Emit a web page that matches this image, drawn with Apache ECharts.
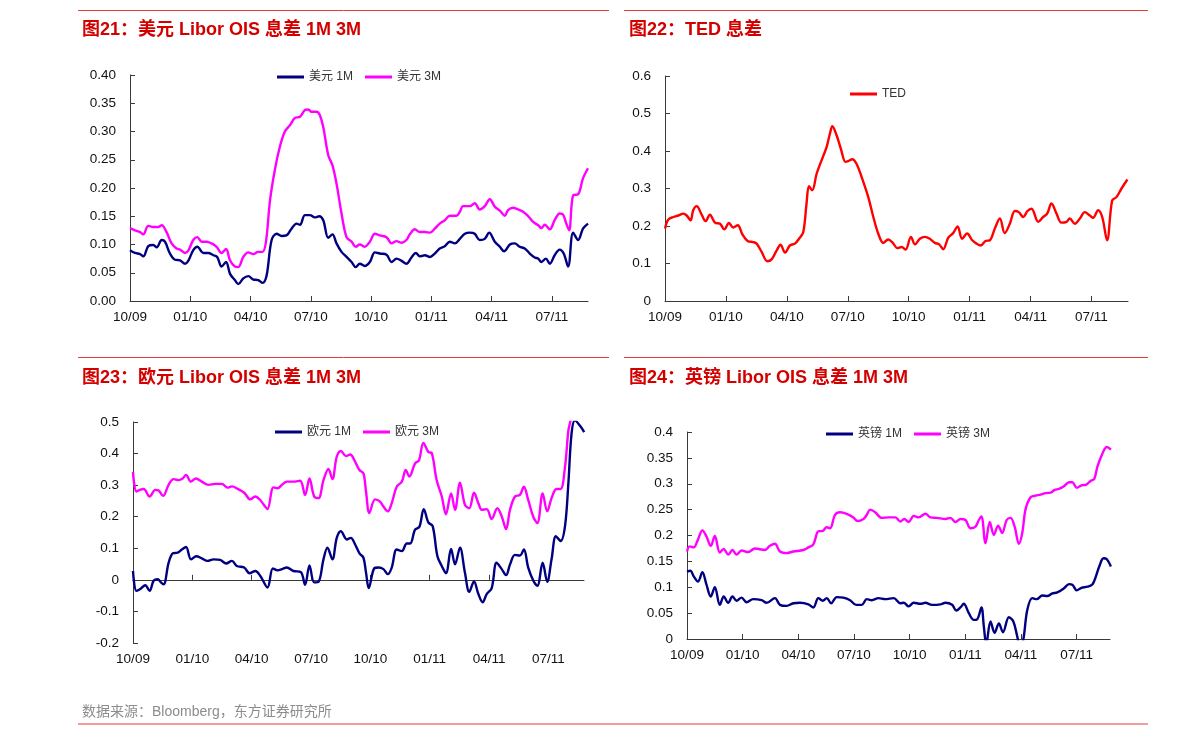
<!DOCTYPE html>
<html>
<head>
<meta charset="utf-8">
<script src="https://cdn.jsdelivr.net/npm/echarts@6/dist/echarts.min.js"></script>
<style>
html,body{margin:0;padding:0;background:#fff;}
#c{width:1191px;height:739px;}
</style>
</head>
<body>
<div id="c"></div>
<script>
// x values are months since 2009-10-01
const quarterTicks = [0, 3, 6, 9, 12, 15, 18, 21];
const quarterLabels = ['10/09', '01/10', '04/10', '07/10', '10/10', '01/11', '04/11', '07/11'];

const usd1M = [[0,.090],[.25,.085],[.5,.083],[.66,.079],[.91,.097],[1.16,.099],[1.33,.095],[1.58,.108],[1.74,.105],[1.99,.084],[2.24,.073],[2.49,.072],[2.74,.066],[2.90,.071],[3.15,.090],[3.35,.096],[3.65,.085],[3.90,.085],[4.15,.081],[4.34,.078],[4.56,.061],[4.78,.069],[4.98,.048],[5.22,.037],[5.39,.030],[5.64,.040],[5.89,.044],[6.14,.038],[6.38,.037],[6.60,.032],[6.80,.045],[7.05,.108],[7.30,.119],[7.55,.115],[7.79,.116],[8.04,.128],[8.29,.137],[8.46,.135],[8.71,.152],[8.96,.152],[9.20,.148],[9.42,.150],[9.62,.143],[9.87,.112],[10.08,.118],[10.28,.102],[10.53,.087],[10.78,.078],[11.03,.069],[11.24,.060],[11.44,.066],[11.69,.062],[11.94,.069],[12.19,.086],[12.44,.084],[12.77,.082],[13.02,.069],[13.27,.075],[13.52,.071],[13.76,.066],[14.01,.077],[14.23,.085],[14.43,.079],[14.68,.081],[14.93,.078],[15.17,.084],[15.42,.093],[15.67,.097],[15.92,.105],[16.17,.102],[16.42,.110],[16.67,.119],[16.92,.121],[17.16,.119],[17.41,.108],[17.66,.110],[17.88,.121],[18.16,.105],[18.41,.096],[18.62,.088],[18.91,.100],[19.15,.102],[19.40,.096],[19.65,.093],[19.90,.084],[20.15,.077],[20.32,.075],[20.48,.069],[20.70,.075],[20.90,.066],[21.14,.081],[21.39,.091],[21.59,.084],[21.81,.061],[22.06,.121],[22.31,.108],[22.55,.128],[22.80,.137]];
const usd3M = [[0,.129],[.25,.125],[.5,.122],[.66,.118],[.91,.133],[1.16,.131],[1.41,.131],[1.58,.134],[1.82,.122],[2.07,.102],[2.32,.093],[2.49,.091],[2.74,.085],[2.90,.089],[3.15,.108],[3.35,.113],[3.57,.105],[3.81,.105],[4.06,.102],[4.31,.096],[4.56,.085],[4.78,.092],[4.98,.072],[5.22,.061],[5.39,.060],[5.64,.078],[5.89,.086],[6.14,.083],[6.38,.087],[6.60,.087],[6.77,.105],[6.97,.178],[7.21,.232],[7.46,.273],[7.71,.300],[7.96,.311],[8.21,.324],[8.46,.326],[8.71,.338],[8.87,.339],[9.04,.335],[9.29,.335],[9.45,.329],[9.62,.308],[9.87,.258],[10.08,.240],[10.28,.208],[10.53,.155],[10.78,.113],[11.03,.105],[11.24,.096],[11.44,.100],[11.69,.096],[11.94,.105],[12.19,.119],[12.44,.116],[12.77,.113],[13.02,.102],[13.27,.106],[13.52,.103],[13.76,.108],[13.93,.118],[14.18,.127],[14.43,.122],[14.68,.122],[14.93,.121],[15.17,.128],[15.42,.137],[15.67,.143],[15.92,.151],[16.25,.151],[16.42,.158],[16.58,.168],[16.92,.168],[17.16,.173],[17.41,.162],[17.66,.168],[17.91,.180],[18.16,.167],[18.41,.160],[18.66,.151],[18.82,.161],[19.07,.165],[19.32,.162],[19.57,.158],[19.82,.150],[20.07,.140],[20.32,.134],[20.48,.129],[20.65,.135],[20.90,.127],[21.14,.143],[21.39,.155],[21.56,.153],[21.72,.137],[21.86,.125],[22.06,.187],[22.31,.189],[22.55,.217],[22.80,.235]];

const ted = [[0,.193],[.16,.217],[.41,.224],[.66,.228],[.90,.233],[1.07,.228],[1.26,.215],[1.39,.242],[1.56,.253],[1.80,.231],[2.00,.213],[2.21,.230],[2.46,.209],[2.71,.206],[2.92,.191],[3.15,.208],[3.36,.196],[3.58,.202],[3.81,.178],[4.07,.160],[4.35,.157],[4.51,.153],[4.76,.131],[5.04,.106],[5.25,.111],[5.50,.135],[5.69,.150],[5.91,.129],[6.15,.148],[6.40,.153],[6.60,.166],[6.81,.184],[6.97,.260],[7.09,.306],[7.25,.295],[7.47,.340],[7.71,.375],[7.96,.411],[8.12,.446],[8.24,.466],[8.45,.442],[8.66,.406],[8.89,.371],[9.02,.373],[9.22,.378],[9.43,.366],[9.68,.331],[10.01,.277],[10.26,.224],[10.50,.180],[10.75,.155],[10.99,.164],[11.19,.157],[11.45,.141],[11.65,.144],[11.85,.137],[12.11,.171],[12.31,.151],[12.55,.166],[12.80,.171],[13.04,.166],[13.29,.155],[13.50,.151],[13.70,.138],[13.95,.169],[14.19,.181],[14.41,.199],[14.63,.166],[14.88,.180],[15.13,.162],[15.34,.153],[15.55,.148],[15.78,.160],[16.00,.162],[16.24,.193],[16.49,.220],[16.73,.181],[16.98,.206],[17.23,.240],[17.42,.237],[17.64,.224],[17.85,.240],[18.05,.246],[18.38,.211],[18.62,.224],[18.82,.233],[19.03,.260],[19.28,.233],[19.52,.209],[19.77,.211],[19.93,.220],[20.18,.206],[20.43,.220],[20.67,.237],[20.92,.228],[21.08,.222],[21.33,.242],[21.53,.224],[21.77,.162],[22.02,.268],[22.23,.277],[22.48,.300],[22.77,.324]];

const eur1M = [[0,.028],[.17,-.035],[.37,-.029],[.62,-.017],[.84,-.035],[1.04,-.003],[1.25,.002],[1.41,-.008],[1.55,-.014],[1.80,.054],[2.02,.084],[2.26,.086],[2.47,.096],[2.68,.104],[2.93,.065],[3.20,.075],[3.48,.068],[3.77,.060],[4.07,.065],[4.41,.063],[4.71,.052],[5.00,.060],[5.25,.044],[5.62,.039],[5.89,.021],[6.18,.028],[6.43,.013],[6.80,-.024],[7.07,.036],[7.31,.030],[7.53,.034],[7.78,.039],[8.11,.028],[8.48,.025],[8.70,-.016],[8.92,.046],[9.16,-.008],[9.38,-.006],[9.63,.065],[9.83,.102],[10.08,.065],[10.30,.133],[10.51,.154],[10.81,.128],[11.01,.133],[11.23,.112],[11.45,.084],[11.65,.070],[11.78,.023],[11.92,-.026],[12.19,.036],[12.41,.039],[12.66,.034],[12.88,.018],[13.08,.039],[13.33,.096],[13.59,.091],[13.84,.115],[14.01,.115],[14.26,.159],[14.48,.168],[14.70,.224],[14.93,.182],[15.15,.170],[15.39,.075],[15.61,.044],[15.82,.021],[16.08,.098],[16.28,.049],[16.53,.102],[16.78,.023],[17.00,-.038],[17.24,-.005],[17.46,-.045],[17.68,-.071],[17.88,-.045],[18.13,-.027],[18.38,.054],[18.64,.034],[18.86,.015],[19.06,.049],[19.31,.079],[19.56,.077],[19.76,.096],[19.98,.039],[20.24,-.003],[20.44,-.019],[20.71,.054],[20.94,-.006],[21.16,.065],[21.38,.138],[21.62,.123],[21.84,.170],[22.01,.306],[22.17,.463],[22.34,.505],[22.59,.489],[22.81,.468]];
const eur3M = [[0,.342],[.17,.280],[.34,.285],[.54,.288],[.84,.264],[1.13,.285],[1.30,.283],[1.52,.266],[1.80,.301],[2.05,.319],[2.31,.316],[2.51,.321],[2.68,.332],[2.93,.311],[3.18,.321],[3.48,.311],[3.82,.301],[4.16,.304],[4.49,.304],[4.78,.292],[5.00,.296],[5.29,.288],[5.62,.276],[5.93,.255],[6.18,.264],[6.43,.253],[6.68,.232],[6.80,.224],[7.10,.293],[7.31,.290],[7.53,.301],[7.78,.311],[8.11,.311],[8.45,.314],[8.70,.269],[8.92,.321],[9.16,.264],[9.38,.259],[9.63,.316],[9.88,.351],[10.08,.319],[10.30,.390],[10.51,.408],[10.77,.392],[10.98,.397],[11.23,.374],[11.45,.348],[11.65,.337],[11.78,.280],[11.95,.212],[12.24,.255],[12.49,.248],[12.66,.232],[12.88,.217],[13.08,.243],[13.33,.295],[13.59,.311],[13.79,.348],[13.97,.327],[14.26,.369],[14.46,.379],[14.68,.434],[14.93,.405],[15.10,.402],[15.35,.316],[15.61,.264],[15.82,.208],[16.08,.274],[16.28,.222],[16.53,.308],[16.78,.238],[17.00,.227],[17.24,.276],[17.46,.243],[17.63,.222],[17.88,.224],[18.13,.193],[18.42,.227],[18.64,.201],[18.86,.161],[19.06,.222],[19.31,.264],[19.56,.269],[19.76,.295],[19.98,.253],[20.24,.199],[20.44,.180],[20.71,.274],[20.94,.217],[21.16,.259],[21.41,.288],[21.62,.288],[21.84,.358],[22.01,.473],[22.12,.505],[22.26,.56],[22.42,.60],[22.81,.62]];

const gbp1M = [[0,.130],[.18,.132],[.36,.121],[.59,.111],[.83,.129],[1.05,.105],[1.28,.082],[1.50,.100],[1.77,.066],[1.98,.082],[2.22,.070],[2.45,.082],[2.67,.074],[2.94,.080],[3.21,.071],[3.57,.077],[4.02,.075],[4.29,.070],[4.74,.079],[5.01,.066],[5.37,.064],[5.73,.069],[6.09,.070],[6.54,.067],[6.81,.061],[7.08,.079],[7.32,.074],[7.53,.079],[7.77,.069],[8.07,.081],[8.43,.080],[8.79,.075],[9.12,.066],[9.42,.066],[9.69,.077],[9.96,.075],[10.32,.079],[10.68,.077],[11.14,.079],[11.50,.069],[11.68,.070],[11.95,.063],[12.22,.070],[12.58,.068],[12.85,.070],[13.21,.066],[13.66,.067],[13.93,.070],[14.29,.066],[14.52,.055],[14.74,.061],[14.92,.068],[15.19,.050],[15.46,.037],[15.64,.038],[15.87,.061],[16.00,.024],[16.13,-.010],[16.36,.034],[16.58,.012],[16.81,.030],[17.03,.013],[17.35,.042],[17.59,.034],[17.80,.005],[17.93,-.012],[18.11,-.004],[18.34,.056],[18.61,.079],[18.85,.077],[19.15,.084],[19.42,.083],[19.69,.088],[19.96,.090],[20.32,.098],[20.59,.106],[20.77,.105],[21.01,.094],[21.26,.099],[21.59,.101],[21.86,.106],[22.04,.121],[22.22,.140],[22.45,.156],[22.63,.154],[22.85,.140]];
const gbp3M = [[0,.169],[.14,.179],[.36,.177],[.59,.192],[.83,.210],[1.05,.198],[1.28,.180],[1.50,.199],[1.77,.167],[1.98,.174],[2.22,.163],[2.45,.172],[2.67,.163],[2.94,.171],[3.30,.168],[3.66,.175],[4.20,.172],[4.47,.180],[4.74,.184],[5.01,.169],[5.37,.166],[5.73,.169],[6.27,.172],[6.54,.177],[6.81,.183],[7.08,.208],[7.32,.209],[7.53,.216],[7.71,.214],[7.98,.240],[8.25,.245],[8.61,.242],[8.97,.235],[9.19,.228],[9.51,.232],[9.69,.240],[9.87,.250],[10.14,.245],[10.50,.234],[10.86,.235],[11.23,.235],[11.50,.227],[11.71,.232],[11.95,.226],[12.22,.238],[12.49,.235],[12.85,.242],[13.12,.235],[13.48,.234],[13.93,.232],[14.20,.234],[14.47,.226],[14.74,.232],[15.01,.230],[15.28,.214],[15.55,.217],[15.73,.230],[15.87,.237],[16.09,.185],[16.32,.226],[16.54,.201],[16.77,.219],[16.99,.205],[17.23,.230],[17.44,.234],[17.66,.217],[17.89,.184],[18.07,.205],[18.25,.251],[18.52,.274],[18.79,.277],[19.06,.279],[19.33,.282],[19.60,.283],[19.82,.288],[20.05,.290],[20.32,.295],[20.59,.303],[20.77,.303],[21.01,.292],[21.26,.297],[21.50,.298],[21.77,.306],[21.95,.309],[22.13,.334],[22.40,.359],[22.63,.371],[22.85,.366]];

const titles = ['图21：美元 Libor OIS 息差 1M 3M', '图22：TED 息差', '图23：欧元 Libor OIS 息差 1M 3M', '图24：英镑 Libor OIS 息差 1M 3M'];
const sourceText = '数据来源：Bloomberg，东方证券研究所';

const FONT = "'Liberation Sans', Arial, 'Noto Sans CJK SC', sans-serif";
const NAVY = '#000080', MAGENTA = '#FF00FF', RED = '#FF0000';
const AXIS = '#3a3a3a';
const RULE = '#E03C3C';
const XMAX = 22.8;

const grids = [
  {left: 130, top: 75, width: 458, height: 226},
  {left: 665, top: 76, width: 463, height: 225},
  {left: 133, top: 422, width: 451, height: 221},
  {left: 687, top: 432, width: 423, height: 207}
];

function xAxisFor(gi, extra) {
  return Object.assign({
    type: 'value', gridIndex: gi, min: 0, max: XMAX, splitLine: {show: false},
    axisLine: {show: true, onZero: true, lineStyle: {color: AXIS, width: 1}},
    axisTick: {show: true, inside: true, length: 5, customValues: quarterTicks, lineStyle: {color: AXIS}},
    axisLabel: {show: true, customValues: quarterTicks, margin: 10, fontSize: 13.5, color: '#111', fontFamily: FONT,
      formatter: v => quarterLabels[Math.round(v / 3)] || ''}
  }, extra || {});
}
function yAxisFor(gi, min, max, interval, fmt) {
  return {
    type: 'value', gridIndex: gi, min: min, max: max, interval: interval, splitLine: {show: false},
    axisLine: {show: true, lineStyle: {color: AXIS, width: 1}},
    axisTick: {show: true, inside: true, length: 5, lineStyle: {color: AXIS}},
    axisLabel: {margin: 14, fontSize: 13.5, color: '#111', fontFamily: FONT, formatter: fmt}
  };
}

function lineSeries(name, data, color, xi, yi) {
  return {
    type: 'line', name: name, data: data, xAxisIndex: xi, yAxisIndex: yi,
    symbol: 'none', showSymbol: false, smooth: 0.35, clip: true,
    lineStyle: {color: color, width: 2.4}, itemStyle: {color: color}, animation: false
  };
}

function legendFor(left, top, names) {
  return {
    left: left, top: top, orient: 'horizontal', padding: 0, icon: 'rect',
    itemWidth: 27, itemHeight: 3, itemGap: 12,
    textStyle: {fontSize: 12, color: '#333', fontFamily: FONT}, data: names, selectedMode: false
  };
}

const chart = echarts.init(document.getElementById('c'), null, {renderer: 'canvas'});

const option = {
  animation: false,
  backgroundColor: '#fff',
  grid: grids,
  xAxis: [
    xAxisFor(0),
    xAxisFor(1),
    xAxisFor(2, {axisLine: {show: false, onZero: false}, axisTick: {show: false}}),
    xAxisFor(3),
    xAxisFor(2, {position: 'top', axisLine: {show: true, onZero: true, lineStyle: {color: AXIS, width: 1}},
      axisTick: {show: true, inside: false, length: 5, customValues: quarterTicks, lineStyle: {color: AXIS}},
      axisLabel: {show: false}})
  ],
  yAxis: [
    yAxisFor(0, 0, 0.4, 0.05, v => v.toFixed(2)),
    yAxisFor(1, 0, 0.6, 0.1),
    yAxisFor(2, -0.2, 0.5, 0.1),
    yAxisFor(3, 0, 0.4, 0.05)
  ],
  legend: [
    legendFor(277, 71, ['美元 1M', '美元 3M']),
    legendFor(850, 88, ['TED']),
    legendFor(275, 426, ['欧元 1M', '欧元 3M']),
    legendFor(826, 428, ['英镑 1M', '英镑 3M'])
  ],
  series: [
    lineSeries('美元 1M', usd1M, NAVY, 0, 0),
    lineSeries('美元 3M', usd3M, MAGENTA, 0, 0),
    lineSeries('TED', ted, RED, 1, 1),
    lineSeries('欧元 1M', eur1M, NAVY, 2, 2),
    lineSeries('欧元 3M', eur3M, MAGENTA, 2, 2),
    lineSeries('英镑 1M', gbp1M, NAVY, 3, 3),
    lineSeries('英镑 3M', gbp3M, MAGENTA, 3, 3)
  ],
  graphic: [
    {type: 'line', shape: {x1: 78, y1: 10.5, x2: 609, y2: 10.5}, style: {stroke: RULE, lineWidth: 1}},
    {type: 'line', shape: {x1: 624, y1: 10.5, x2: 1148, y2: 10.5}, style: {stroke: RULE, lineWidth: 1}},
    {type: 'line', shape: {x1: 78, y1: 357.5, x2: 609, y2: 357.5}, style: {stroke: RULE, lineWidth: 1}},
    {type: 'line', shape: {x1: 624, y1: 357.5, x2: 1148, y2: 357.5}, style: {stroke: RULE, lineWidth: 1}},
    {type: 'line', shape: {x1: 78, y1: 724, x2: 1148, y2: 724}, style: {stroke: RULE, lineWidth: 1.2}},
    {type: 'text', x: 82, y: 30, style: {text: titles[0], fill: '#D40000', font: 'bold 18px ' + FONT, verticalAlign: 'middle'}},
    {type: 'text', x: 629, y: 30, style: {text: titles[1], fill: '#D40000', font: 'bold 18px ' + FONT, verticalAlign: 'middle'}},
    {type: 'text', x: 82, y: 378, style: {text: titles[2], fill: '#D40000', font: 'bold 18px ' + FONT, verticalAlign: 'middle'}},
    {type: 'text', x: 629, y: 378, style: {text: titles[3], fill: '#D40000', font: 'bold 18px ' + FONT, verticalAlign: 'middle'}},
    {type: 'text', x: 82, y: 712, style: {text: sourceText, fill: '#8c8c8c', font: '14px ' + FONT, verticalAlign: 'middle'}}
  ]
};
chart.setOption(option);
</script>
</body>
</html>
